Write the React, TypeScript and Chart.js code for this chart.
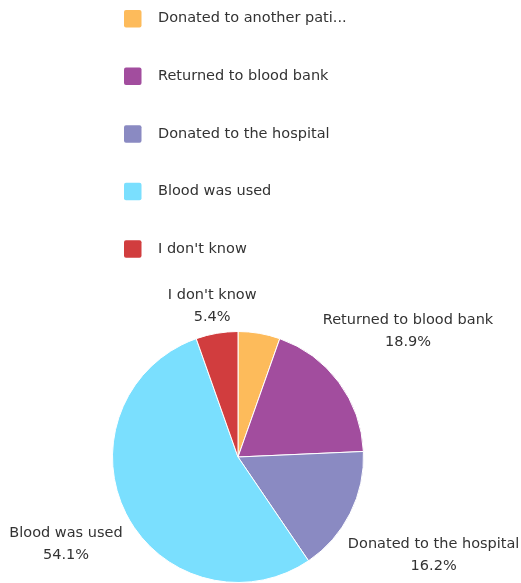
import React, { useEffect, useRef } from "react";
import { Chart, ArcElement, PieController } from "chart.js";

Chart.register(ArcElement, PieController);

// ---- data ----
const categories = [
  "Donated to another patient",
  "Returned to blood bank",
  "Donated to the hospital",
  "Blood was used",
  "I don't know",
];
const shares = [5.4, 18.9, 16.2, 54.1, 5.4];
const sliceColors = ["#FDBB5B", "#A24D9E", "#8A8AC2", "#7ADFFE", "#D13D3E"];

// ---- style / layout ----
const FONT = '14.5px "DejaVu Sans"';
const TEXT_COLOR = "#333333";
const MAX_LEGEND_CHARS = 23;
const LEGEND_X = 124;
const LEGEND_TEXT_X = 158;
const LEGEND_TOP = 18.7;
const LEGEND_STEP = 57.6;
const LEGEND_BOX = 17.5;
const LABEL_GAP = 14;
const LABEL_VPAD = 6;
const LINE_H = 22;

function shorten(s: string) {
  return s.length > MAX_LEGEND_CHARS ? s.slice(0, MAX_LEGEND_CHARS) + "..." : s;
}

const stackedLegend = {
  id: "stackedLegend",
  afterDraw(chart: any) {
    const ctx = chart.ctx as CanvasRenderingContext2D;
    ctx.save();
    ctx.font = FONT;
    ctx.textBaseline = "middle";
    ctx.textAlign = "left";
    categories.forEach((c, i) => {
      const cy = LEGEND_TOP + i * LEGEND_STEP;
      ctx.fillStyle = sliceColors[i];
      ctx.beginPath();
      if ((ctx as any).roundRect) {
        (ctx as any).roundRect(LEGEND_X, cy - LEGEND_BOX / 2, LEGEND_BOX, LEGEND_BOX, 2);
      } else {
        ctx.rect(LEGEND_X, cy - LEGEND_BOX / 2, LEGEND_BOX, LEGEND_BOX);
      }
      ctx.fill();
      ctx.fillStyle = TEXT_COLOR;
      ctx.fillText(shorten(c), LEGEND_TEXT_X, cy);
    });
    ctx.restore();
  },
};

const outerLabels = {
  id: "outerLabels",
  afterDatasetsDraw(chart: any) {
    const meta = chart.getDatasetMeta(0);
    const ctx = chart.ctx as CanvasRenderingContext2D;
    ctx.save();
    ctx.font = FONT;
    ctx.fillStyle = TEXT_COLOR;
    ctx.textAlign = "center";
    ctx.textBaseline = "middle";
    const placed: { l: number; r: number; t: number; b: number }[] = [];
    for (let i = meta.data.length - 1; i >= 0; i--) {
      const arc = meta.data[i];
      const { x, y, startAngle, endAngle, outerRadius } = arc.getProps(
        ["x", "y", "startAngle", "endAngle", "outerRadius"],
        true
      );
      const mid = (startAngle + endAngle) / 2;
      const dx = Math.cos(mid);
      const dy = Math.sin(mid);
      const lines = [categories[i], shares[i].toFixed(1) + "%"];
      const w = Math.max(...lines.map((l) => ctx.measureText(l).width));
      const hw = w / 2;
      const dist = outerRadius + LABEL_GAP + hw * Math.abs(dx) + LABEL_VPAD * Math.abs(dy);
      const cx = x + dx * dist;
      const cy = y + dy * dist;
      const box = { l: cx - hw, r: cx + hw, t: cy - LINE_H, b: cy + LINE_H };
      const hit = placed.some((p) => box.l < p.r && box.r > p.l && box.t < p.b && box.b > p.t);
      if (hit) continue;
      placed.push(box);
      ctx.fillText(lines[0], cx, cy - LINE_H / 2);
      ctx.fillText(lines[1], cx, cy + LINE_H / 2);
    }
    ctx.restore();
  },
};

export default function App() {
  const ref = useRef<HTMLCanvasElement | null>(null);
  useEffect(() => {
    if (!ref.current) return;
    const chart = new Chart(ref.current, {
      type: "pie",
      data: {
        labels: categories,
        datasets: [
          {
            data: shares,
            backgroundColor: sliceColors,
            borderColor: "#ffffff",
            borderWidth: 1,
            hoverOffset: 0,
          },
        ],
      },
      options: {
        responsive: false,
        animation: false,
        devicePixelRatio: 1,
        layout: { padding: { top: 331, right: 45, left: 0, bottom: 0 } },
        plugins: { legend: { display: false }, tooltip: { enabled: false } },
      } as any,
      plugins: [stackedLegend, outerLabels],
    });
    return () => chart.destroy();
  }, []);
  return (
    <div style={{ position: "absolute", left: 0, top: 0, width: 521, height: 583 }}>
      <canvas ref={ref} width={521} height={583} style={{ display: "block" }} />
    </div>
  );
}
